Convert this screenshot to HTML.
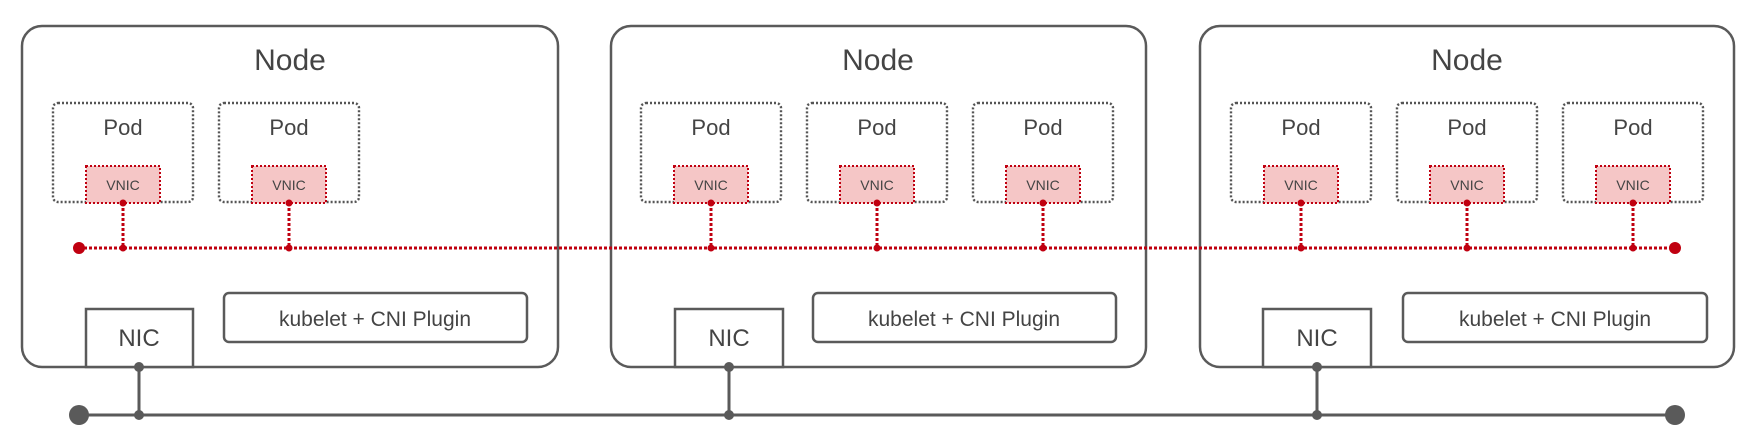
<!DOCTYPE html>
<html><head><meta charset="utf-8"><style>
html,body{margin:0;padding:0;background:#fff;}
svg text{font-family:"Liberation Sans",sans-serif;fill:#444;}
</style></head><body>
<svg width="1759" height="440" viewBox="0 0 1759 440" xmlns="http://www.w3.org/2000/svg">
<g fill="#fff" stroke="#5a5a5a" stroke-width="2.5">
<rect x="22" y="26" width="536" height="341" rx="20"/>
<rect x="611" y="26" width="535" height="341" rx="20"/>
<rect x="1200" y="26" width="534" height="341" rx="20"/>
</g>
<g font-size="30" text-anchor="middle">
<text x="290" y="70">Node</text>
<text x="878" y="70">Node</text>
<text x="1467" y="70">Node</text>
</g>
<g fill="none" stroke="#555" stroke-width="2.4" stroke-dasharray="2,2">
<rect x="53" y="103" width="140" height="99" rx="5"/>
<rect x="219" y="103" width="140" height="99" rx="5"/>
<rect x="641" y="103" width="140" height="99" rx="5"/>
<rect x="807" y="103" width="140" height="99" rx="5"/>
<rect x="973" y="103" width="140" height="99" rx="5"/>
<rect x="1231" y="103" width="140" height="99" rx="5"/>
<rect x="1397" y="103" width="140" height="99" rx="5"/>
<rect x="1563" y="103" width="140" height="99" rx="5"/>
</g>
<g font-size="22" text-anchor="middle">
<text x="123" y="135">Pod</text><text x="289" y="135">Pod</text>
<text x="711" y="135">Pod</text><text x="877" y="135">Pod</text><text x="1043" y="135">Pod</text>
<text x="1301" y="135">Pod</text><text x="1467" y="135">Pod</text><text x="1633" y="135">Pod</text>
</g>
<g fill="#f5c6c6" stroke="#c00010" stroke-width="2" stroke-dasharray="2,2">
<rect x="86" y="166" width="74" height="37"/>
<rect x="252" y="166" width="74" height="37"/>
<rect x="674" y="166" width="74" height="37"/>
<rect x="840" y="166" width="74" height="37"/>
<rect x="1006" y="166" width="74" height="37"/>
<rect x="1264" y="166" width="74" height="37"/>
<rect x="1430" y="166" width="74" height="37"/>
<rect x="1596" y="166" width="74" height="37"/>
</g>
<g font-size="14" text-anchor="middle">
<text x="123" y="190">VNIC</text><text x="289" y="190">VNIC</text>
<text x="711" y="190">VNIC</text><text x="877" y="190">VNIC</text><text x="1043" y="190">VNIC</text>
<text x="1301" y="190">VNIC</text><text x="1467" y="190">VNIC</text><text x="1633" y="190">VNIC</text>
</g>
<g stroke="#c00010" stroke-width="3" stroke-dasharray="3,2" fill="none">
<line x1="79" y1="248" x2="1675" y2="248"/>
<line x1="123" y1="203" x2="123" y2="248"/><line x1="289" y1="203" x2="289" y2="248"/>
<line x1="711" y1="203" x2="711" y2="248"/><line x1="877" y1="203" x2="877" y2="248"/><line x1="1043" y1="203" x2="1043" y2="248"/>
<line x1="1301" y1="203" x2="1301" y2="248"/><line x1="1467" y1="203" x2="1467" y2="248"/><line x1="1633" y1="203" x2="1633" y2="248"/>
</g>
<g fill="#c00010">
<circle cx="79" cy="248" r="6"/><circle cx="1675" cy="248" r="6"/>
<circle cx="123" cy="248" r="3.5"/><circle cx="289" cy="248" r="3.5"/><circle cx="711" cy="248" r="3.5"/><circle cx="877" cy="248" r="3.5"/><circle cx="1043" cy="248" r="3.5"/><circle cx="1301" cy="248" r="3.5"/><circle cx="1467" cy="248" r="3.5"/><circle cx="1633" cy="248" r="3.5"/>
<circle cx="123" cy="203" r="3.5"/><circle cx="289" cy="203" r="3.5"/><circle cx="711" cy="203" r="3.5"/><circle cx="877" cy="203" r="3.5"/><circle cx="1043" cy="203" r="3.5"/><circle cx="1301" cy="203" r="3.5"/><circle cx="1467" cy="203" r="3.5"/><circle cx="1633" cy="203" r="3.5"/>
</g>
<g fill="#fff" stroke="#5a5a5a" stroke-width="2.5">
<rect x="224" y="293" width="303" height="49" rx="5"/>
<rect x="813" y="293" width="303" height="49" rx="5"/>
<rect x="1403" y="293" width="304" height="49" rx="5"/>
<rect x="86" y="309" width="107" height="58"/>
<rect x="675" y="309" width="108" height="58"/>
<rect x="1263" y="309" width="108" height="58"/>
</g>
<g font-size="21" text-anchor="middle">
<text x="375" y="326">kubelet + CNI Plugin</text>
<text x="964" y="326">kubelet + CNI Plugin</text>
<text x="1555" y="326">kubelet + CNI Plugin</text>
</g>
<g font-size="24" text-anchor="middle">
<text x="139" y="346">NIC</text><text x="729" y="346">NIC</text><text x="1317" y="346">NIC</text>
</g>
<g stroke="#5a5a5a" stroke-width="3">
<line x1="79" y1="415" x2="1675" y2="415"/>
<line x1="139" y1="367" x2="139" y2="415"/>
<line x1="729" y1="367" x2="729" y2="415"/>
<line x1="1317" y1="367" x2="1317" y2="415"/>
</g>
<g fill="#5a5a5a">
<circle cx="79" cy="415" r="10"/><circle cx="1675" cy="415" r="10"/>
<circle cx="139" cy="415" r="5"/><circle cx="729" cy="415" r="5"/><circle cx="1317" cy="415" r="5"/>
<circle cx="139" cy="367" r="5"/><circle cx="729" cy="367" r="5"/><circle cx="1317" cy="367" r="5"/>
</g>
</svg>
</body></html>
